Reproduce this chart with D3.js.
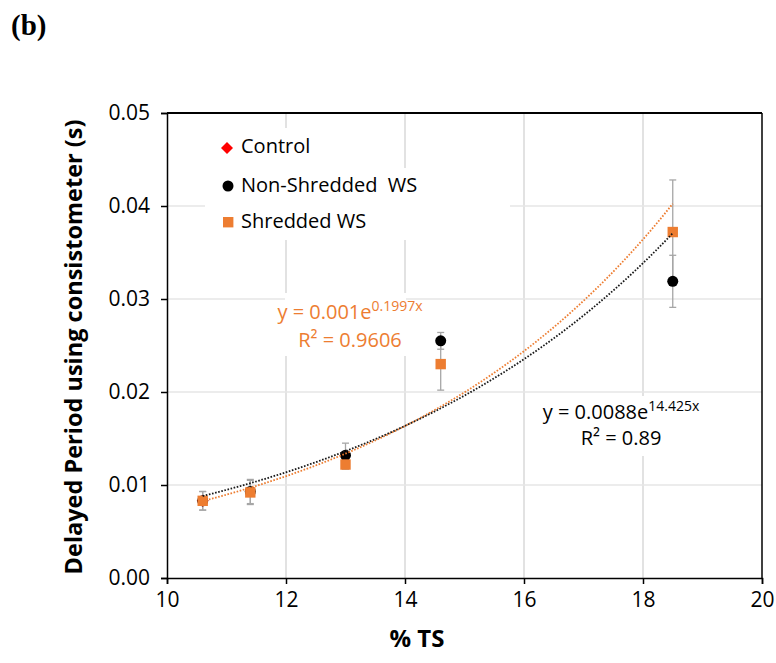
<!DOCTYPE html>
<html><head><meta charset="utf-8">
<script src="https://cdn.jsdelivr.net/npm/d3@7"></script>
<style>body{margin:0;background:#fff}svg{display:block}</style>
</head><body><svg id="c" width="776" height="663" font-family="Open Sans, sans-serif"></svg>
<script>
const xTicks = [10, 12, 14, 16, 18, 20];
const yTicks = [0, 0.01, 0.02, 0.03, 0.04, 0.05];
const yTickLabels = ["0.00", "0.01", "0.02", "0.03", "0.04", "0.05"];
const ts = [10.6, 11.4, 13.0, 14.6, 18.5];
const nonShredded = [0.0083, 0.0093, 0.0132, 0.0255, 0.0319];
const nonShreddedErr = [0.0010, 0.0013, 0.0013, 0.0009, 0.0028];
const shredded = [0.0083, 0.0092, 0.0122, 0.0230, 0.0372];
const shreddedErr = [0.0010, 0.0013, 0.0005, 0.0028, 0.0056];
const controlX = [10.6];
const control = [0.0083];
const legendLabels = ["Control", "Non-Shredded  WS", "Shredded WS"];
const eqShredded = ["y = 0.001e", "0.1997x", "R² = 0.9606"];
const eqNonShredded = ["y = 0.0088e", "14.425x", "R² = 0.89"];

const ORANGE = "#ED7D31";
const svg = d3.select("#c");
const x = d3.scaleLinear().domain([10, 20]).range([167, 762]);
const y = d3.scaleLinear().domain([0, 0.05]).range([578, 113]);

// gridlines
const g = svg.append("g");
g.selectAll(".vg").data(xTicks.slice(1, -1)).join("line")
  .attr("x1", d => x(d)).attr("x2", d => x(d)).attr("y1", y(0)).attr("y2", y(0.05))
  .attr("stroke", "#d9d9d9").attr("stroke-width", 1.5);
g.selectAll(".hg").data(yTicks.slice(1, -1)).join("line")
  .attr("x1", x(10)).attr("x2", x(20)).attr("y1", d => y(d)).attr("y2", d => y(d))
  .attr("stroke", "#e6e6e6").attr("stroke-width", 1.5);

// white label backgrounds
[[205,128,195,112],[400,168,110,72],[285,293,121,63],[535,396,167,60]].forEach(r=>{
  svg.append("rect").attr("x",r[0]).attr("y",r[1]).attr("width",r[2]).attr("height",r[3]).attr("fill","#fff");
});

// axes
const xAxis = d3.axisBottom(x).tickValues(xTicks).tickSize(6).tickPadding(8).tickFormat(d3.format("d"));
const yAxis = d3.axisLeft(y).tickValues(yTicks).tickSize(6).tickPadding(11).tickFormat((d,i)=>yTickLabels[i]);
const gx = svg.append("g").attr("transform", `translate(0,${y(0)})`).call(xAxis);
const gy = svg.append("g").attr("transform", `translate(${x(10)},0)`).call(yAxis);
[gx, gy].forEach(a => {
  a.attr("font-family", null).attr("font-size", null);
  a.select(".domain").attr("stroke", "#000").attr("stroke-width", 1.5);
  a.selectAll(".tick line").attr("stroke", "#000").attr("stroke-width", 1.5);
  a.selectAll("text").attr("font-size", 21).attr("fill", "#000");
});
// top & right border
svg.append("line").attr("x1", x(10)).attr("x2", x(20)).attr("y1", y(0.05)).attr("y2", y(0.05)).attr("stroke", "#000").attr("stroke-width", 1.8);
svg.append("line").attr("x1", x(20)).attr("x2", x(20)).attr("y1", y(0.05)).attr("y2", y(0)).attr("stroke", "#000").attr("stroke-width", 1.5);

// error bars
function errBars(vals, errs) {
  const eg = svg.append("g").attr("stroke", "#a6a6a6").attr("stroke-width", 1.3);
  ts.forEach((t, i) => {
    const cx = x(t), top = y(vals[i] + errs[i]), bot = y(vals[i] - errs[i]);
    eg.append("line").attr("x1", cx).attr("x2", cx).attr("y1", top).attr("y2", bot);
    eg.append("line").attr("x1", cx - 3.5).attr("x2", cx + 3.5).attr("y1", top).attr("y2", top);
    eg.append("line").attr("x1", cx - 3.5).attr("x2", cx + 3.5).attr("y1", bot).attr("y2", bot);
  });
}
errBars(nonShredded, nonShreddedErr);
errBars(shredded, shreddedErr);

// markers
const diamond = d3.symbol().type(d3.symbolSquare).size(72);
svg.selectAll(".ctl").data(control).join("path")
  .attr("d", diamond).attr("transform", (d,i) => `translate(${x(controlX[i])},${y(d)}) rotate(45)`).attr("fill", "#ff0000");
svg.selectAll(".ns").data(nonShredded).join("circle")
  .attr("cx", (d,i) => x(ts[i])).attr("cy", d => y(d)).attr("r", 5.5).attr("fill", "#000");
svg.selectAll(".sh").data(shredded).join("rect")
  .attr("x", (d,i) => x(ts[i]) - 5.2).attr("y", d => y(d) - 5.2).attr("width", 10.4).attr("height", 10.4).attr("fill", ORANGE);

// exponential trendlines (least squares on ln y)
function expFit(xs, ys) {
  const ly = ys.map(Math.log);
  const mx = d3.mean(xs), my = d3.mean(ly);
  const b = d3.sum(xs, (v,i) => (v - mx) * (ly[i] - my)) / d3.sum(xs, v => (v - mx) ** 2);
  const a = Math.exp(my - b * mx);
  return t => a * Math.exp(b * t);
}
function trend(vals, color) {
  const f = expFit(ts, vals);
  const pts = d3.range(0, 101).map(k => { const t = ts[0] + (ts[ts.length-1] - ts[0]) * k / 100; return [t, f(t)]; });
  svg.append("path").datum(pts).attr("fill", "none").attr("stroke", color).attr("stroke-width", 1.8)
    .attr("stroke-dasharray", "1.6,1.6")
    .attr("d", d3.line().x(d => x(d[0])).y(d => y(d[1])));
}
trend(shredded, ORANGE);
trend(nonShredded, "#1a1a1a");

// equations
function equation(lines, cx, y1, y2, color) {
  const t = svg.append("text").attr("x", cx).attr("y", y1).attr("text-anchor", "middle").attr("font-size", 20).attr("fill", color);
  t.append("tspan").text(lines[0]);
  t.append("tspan").attr("dy", -8).attr("font-size", 14).text(lines[1]);
  svg.append("text").attr("x", cx).attr("y", y2).attr("text-anchor", "middle").attr("font-size", 20).attr("fill", color).text(lines[2]);
}
equation(eqShredded, 350, 319, 347, ORANGE);
equation(eqNonShredded, 621, 419, 445, "#000");

// legend
const lg = svg.append("g");
lg.append("path").attr("d", diamond).attr("transform", "translate(227,148) rotate(45)").attr("fill", "#ff0000");
lg.append("circle").attr("cx", 228).attr("cy", 186).attr("r", 5.5).attr("fill", "#000");
lg.append("rect").attr("x", 223).attr("y", 217).attr("width", 10.4).attr("height", 10.4).attr("fill", ORANGE);
lg.selectAll(".lt").data(legendLabels).join("text")
  .attr("x", 241).attr("y", (d,i) => [153, 192, 228][i]).attr("font-size", 20).attr("fill", "#000")
  .style("white-space", "pre").text(d => d);

// titles
svg.append("text").attr("x", 417).attr("y", 647).attr("text-anchor", "middle").attr("font-size", 24).attr("font-weight", "bold").text("% TS");
svg.append("text").attr("transform", "translate(82,347) rotate(-90)").attr("text-anchor", "middle").attr("font-size", 23.5).attr("font-weight", "bold").text("Delayed Period using consistometer (s)");
svg.append("text").attr("x", 11).attr("y", 35).attr("font-family", "Liberation Serif, serif").attr("font-size", 29).attr("font-weight", "bold").text("(b)");
</script></body></html>
